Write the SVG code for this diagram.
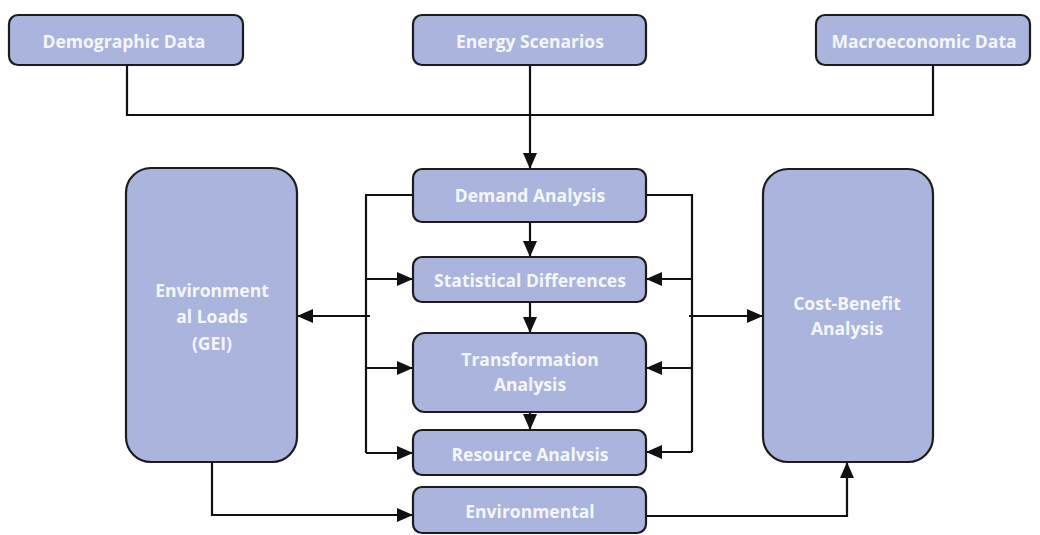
<svg xmlns="http://www.w3.org/2000/svg" width="1040" height="535" viewBox="0 0 1040 535">
<style>
.box{fill:#aab4dd;stroke:#1c1c1c;stroke-width:2.2}
.lbl{font-family:"Open Sans","Liberation Sans",sans-serif;font-weight:700;font-size:17.5px;fill:#f5f6fa;text-anchor:middle}
.ln{fill:none;stroke:#111;stroke-width:2.2}
</style>
<defs>
<marker id="ah" markerUnits="userSpaceOnUse" markerWidth="16" markerHeight="16" viewBox="0 0 16 16" refX="15" refY="8" orient="auto">
<path d="M0,1 L16,8 L0,15 Z" fill="#111"/>
</marker>
</defs>
<rect width="1040" height="535" fill="#ffffff"/>
<g id="connectors">
<path class="ln" d="M127,65 V115 H933 V65"/>
<path class="ln" d="M530,65 V168" marker-end="url(#ah)"/>
<path class="ln" d="M530,222 V256" marker-end="url(#ah)"/>
<path class="ln" d="M530,302 V332" marker-end="url(#ah)"/>
<path class="ln" d="M530,412 V429" marker-end="url(#ah)"/>
<path class="ln" d="M413,195 H366 V453"/>
<path class="ln" d="M366,279 H412" marker-end="url(#ah)"/>
<path class="ln" d="M366,368 H412" marker-end="url(#ah)"/>
<path class="ln" d="M366,453 H412" marker-end="url(#ah)"/>
<path class="ln" d="M370,316 H298" marker-end="url(#ah)"/>
<path class="ln" d="M646,195 H692 V452"/>
<path class="ln" d="M692,279 H647" marker-end="url(#ah)"/>
<path class="ln" d="M692,368 H647" marker-end="url(#ah)"/>
<path class="ln" d="M692,452 H647" marker-end="url(#ah)"/>
<path class="ln" d="M689,316 H762" marker-end="url(#ah)"/>
<path class="ln" d="M212,462 V515 H412" marker-end="url(#ah)"/>
<path class="ln" d="M646,516 H847 V463" marker-end="url(#ah)"/>
</g>
<g id="demographic">
<rect class="box" x="9" y="15" width="234" height="50" rx="9"/>
<text class="lbl" x="124" y="48">Demographic Data</text>
</g>
<g id="energy">
<rect class="box" x="413" y="15" width="233" height="50" rx="9"/>
<text class="lbl" x="530" y="48">Energy Scenarios</text>
</g>
<g id="macro">
<rect class="box" x="816" y="15" width="214" height="50" rx="9"/>
<text class="lbl" x="924" y="48">Macroeconomic Data</text>
</g>
<g id="demand">
<rect class="box" x="413" y="169" width="233" height="53" rx="9"/>
<text class="lbl" x="530" y="202">Demand Analysis</text>
</g>
<g id="statistical">
<rect class="box" x="413" y="257" width="233" height="45" rx="9"/>
<text class="lbl" x="530" y="287">Statistical Differences</text>
</g>
<g id="transformation">
<rect class="box" x="413" y="333" width="233" height="79" rx="12"/>
<text class="lbl" x="530" y="366">Transformation</text>
<text class="lbl" x="530" y="391">Analysis</text>
</g>
<g id="resource">
<rect class="box" x="413" y="430" width="233" height="45" rx="9"/>
<text class="lbl" x="530" y="461">Resource Analvsis</text>
</g>
<g id="environmental">
<rect class="box" x="413" y="487" width="233" height="46" rx="9"/>
<text class="lbl" x="530" y="518">Environmental</text>
</g>
<g id="envloads">
<rect class="box" x="126" y="168" width="171" height="294" rx="25"/>
<text class="lbl" x="212" y="297">Environment</text>
<text class="lbl" x="212" y="323">al Loads</text>
<text class="lbl" x="212" y="350">(GEI)</text>
</g>
<g id="costbenefit">
<rect class="box" x="763" y="169" width="170" height="293" rx="25"/>
<text class="lbl" x="847" y="310">Cost-Benefit</text>
<text class="lbl" x="847" y="335">Analysis</text>
</g>
</svg>
